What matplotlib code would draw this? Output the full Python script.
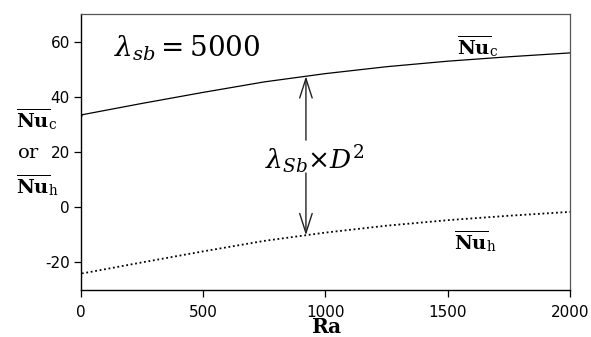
import numpy as np
import matplotlib
matplotlib.use("Agg")
import matplotlib.pyplot as plt

plt.rcParams['mathtext.fontset'] = 'dejavuserif'
plt.rcParams['font.family'] = ['DejaVu Sans']
plt.rcParams['axes.unicode_minus'] = False

# Data
ra = [0, 5, 250, 500, 750, 1000, 1250, 1500, 1750, 2000]
nu_c = [32.0, 33.5, 37.6, 41.6, 45.4, 48.4, 50.9, 52.9, 54.5, 55.9]
nu_h = [-25.7, -24.0, -20.0, -16.0, -12.2, -9.2, -6.7, -4.7, -3.1, -1.7]
x_ticks = [0, 500, 1000, 1500, 2000]
y_ticks = [-20, 0, 20, 40, 60]
arrow_ra = 920

fig = plt.figure(figsize=(5.91, 3.37), dpi=100)
ax = fig.add_axes([0.137, 0.1395, 0.8275, 0.819])

ax.plot(ra, nu_c, color='black', lw=0.9)
ax.plot(ra, nu_h, color='black', lw=1.3, linestyle=(0, (1, 1.5)))

ax.set_xlim(0, 2000)
ax.set_ylim(-30, 70)
ax.set_xticks(x_ticks)
ax.set_yticks(y_ticks)
ax.tick_params(direction='out', length=5, width=0.9, colors='black')
ax.tick_params(axis='x', labelsize=11, pad=5.5)
ax.tick_params(axis='y', labelsize=11, pad=3)
for s in ['top', 'right']:
    ax.spines[s].set_color('#555555')
    ax.spines[s].set_linewidth(0.9)
for s in ['left', 'bottom']:
    ax.spines[s].set_linewidth(1.0)

ax.text(0.217, 0.877, r'$\lambda_{sb}=5000$', transform=ax.transAxes,
        fontsize=20, ha='center', va='center')

ax.text(0.478, 0.472, r'$\lambda_{Sb}{\times}D^2$', transform=ax.transAxes,
        fontsize=19, ha='center', va='center')

yc = np.interp(arrow_ra, ra, nu_c)
yh = np.interp(arrow_ra, ra, nu_h)
ap = dict(arrowstyle='->,head_length=1.4,head_width=0.45', color='#222222',
          lw=1.0, shrinkA=0, shrinkB=0)
ax.annotate('', xy=(arrow_ra, yc), xytext=(arrow_ra, 24.3), arrowprops=ap)
ax.annotate('', xy=(arrow_ra, yh), xytext=(arrow_ra, 12.4), arrowprops=ap)

ax.text(0.81, 0.884, r'$\overline{\mathbf{Nu}}_{\mathrm{c}}$', transform=ax.transAxes,
        fontsize=14, ha='center', va='center')
ax.text(0.806, 0.178, r'$\overline{\mathbf{Nu}}_{\mathrm{h}}$', transform=ax.transAxes,
        fontsize=14, ha='center', va='center')

ax.set_xlabel(r'$\mathbf{Ra}$', fontsize=14.5)
ax.xaxis.set_label_coords(0.503, -0.102)

fig.text(37 / 591, 1 - 119 / 337, r'$\overline{\mathbf{Nu}}_{\mathrm{c}}$', fontsize=14,
         ha='center', va='center')
fig.text(28 / 591, 1 - 153 / 337, r'$\mathrm{or}$', fontsize=14,
         ha='center', va='center')
fig.text(37 / 591, 1 - 185 / 337, r'$\overline{\mathbf{Nu}}_{\mathrm{h}}$', fontsize=14,
         ha='center', va='center')

fig.savefig('out.png', dpi=100)
